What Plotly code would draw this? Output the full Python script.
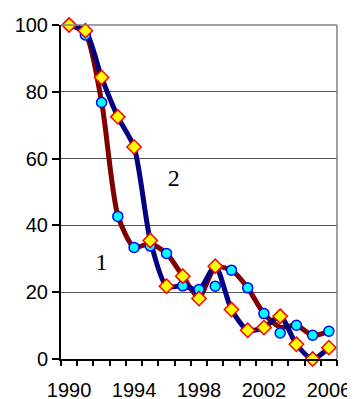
import plotly.graph_objs as go

years = list(range(1990, 2007))

# smoothed curves
line_1 = [100, 97.5, 77, 43, 33.5, 34.5, 31.6, 24.8, 18.5, 27.5, 26.6, 21.3, 13.6, 9.5, 10.1, 7.1, 8.3]
line_2 = [100, 98.3, 84.3, 72.5, 63.5, 35.5, 21.8, 21.9, 20.8, 27.8, 14.8, 8.6, 9.4, 12.8, 4.4, 0, 3.4]

# point markers
circles = [100, 97, 76.8, 42.7, 33.4, 33.8, 31.6, 21.9, 20.8, 21.8, 26.6, 21.3, 13.6, 7.8, 10.1, 7.1, 8.3]
diamonds = [100, 98.3, 84.3, 72.5, 63.5, 35.5, 21.8, 24.8, 18.1, 27.8, 14.8, 8.6, 9.4, 12.8, 4.4, 0, 3.4]

tick_years = [1990, 1994, 1998, 2002, 2006]
# tick marks sit between the years
tick_marks = [y - 0.5 for y in years] + [years[-1] + 0.5]
labels = ['1', '2']
label_x = [1992, 1996.45]
label_y = [28.4, 53.5]

tick_font = dict(family='Liberation Sans, Arial', size=20, color='black')
xr = [1989.5, 2006.5]

fig = go.Figure()
fig.add_trace(go.Scatter(x=years, y=line_1, mode='lines', line=dict(color='#800000', width=5, shape='spline', smoothing=0.7), cliponaxis=False))
fig.add_trace(go.Scatter(x=years, y=line_2, mode='lines', line=dict(color='#000080', width=5, shape='spline', smoothing=0.7), cliponaxis=False))
fig.add_trace(go.Scatter(x=years, y=circles, mode='markers', cliponaxis=False,
                         marker=dict(symbol='circle', size=10, color='#00FFFF', line=dict(color='#0000FF', width=1.5))))
fig.add_trace(go.Scatter(x=years, y=diamonds, mode='markers', cliponaxis=False,
                         marker=dict(symbol='diamond', size=11, color='#FFFF00', line=dict(color='#FF0000', width=1.5))))
fig.add_trace(go.Scatter(x=label_x, y=label_y, mode='text', text=labels, xaxis='x2',
                         textfont=dict(family='Liberation Serif', size=24, color='black')))

fig.add_shape(type='line', xref='paper', yref='paper', x0=1, x1=1, y0=0, y1=1, line=dict(color='#808080', width=1.5))
fig.add_shape(type='line', xref='paper', yref='paper', x0=0, x1=1, y0=1, y1=1, line=dict(color='#808080', width=1.5))

# the page body adds an 8 px margin at top/left, so the figure is 8 px smaller each way
fig.update_layout(
    width=347, height=391,
    margin=dict(l=53, r=18, t=17, b=40),
    paper_bgcolor='white', plot_bgcolor='white',
    showlegend=False,
    font=tick_font,
    xaxis=dict(range=xr, tickmode='array', tickvals=tick_years,
               ticks='outside', ticklen=12, tickcolor='white', tickwidth=1, tickfont=tick_font,
               showgrid=False, zeroline=False, automargin=False,
               showline=True, linecolor='black', linewidth=2),
    xaxis2=dict(range=xr, overlaying='x', anchor='y', side='bottom', tickmode='array',
                tickvals=tick_marks, ticktext=[''] * len(tick_marks),
                ticks='outside', ticklen=6, tickcolor='black', tickwidth=1.5,
                showgrid=False, zeroline=False, showline=False, automargin=False),
    yaxis=dict(range=[0, 100], dtick=20, ticks='outside', ticklen=7, tickcolor='black', tickwidth=1.5,
               tickfont=tick_font, showgrid=True, gridcolor='#555555', gridwidth=1, zeroline=False,
               showline=True, linecolor='black', linewidth=2, automargin=False),
)

fig.write_html("out.html")
